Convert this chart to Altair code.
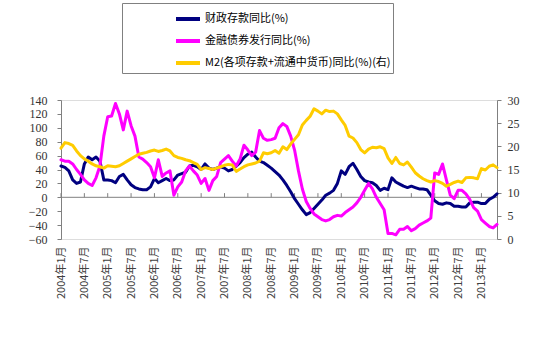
import altair as alt
import pandas as pd

S1 = "财政存款同比(%)"
S2 = "金融债券发行同比(%)"
S3 = "M2(各项存款+流通中货币)同比(%)(右)"

fiscal = [45, 43, 38, 25, 20, 22, 48, 58, 54, 58,
          52, 25, 25, 24, 21, 30, 33, 25, 18, 14,
          12, 11, 11, 15, 27, 21, 24, 27, 24, 25,
          32, 34, 36, 45, 46, 44, 40, 48, 42, 40,
          42, 44, 42, 38, 40, 45, 50, 57, 62, 65,
          58, 52, 50, 46, 42, 37, 32, 25, 17, 8,
          -2, -10, -18, -25, -22, -16, -10, -4, 3, 6,
          10, 20, 38, 33, 44, 49, 40, 30, 24, 22,
          21, 17, 10, 13, 11, 28, 22, 19, 16, 14,
          16, 14, 12, 12, 11, 3, -5, -9, -10, -8,
          -9, -13, -13, -14, -14, -8, -7, -7, -9, -9,
          -3, 0, 5]

bond = [54, 52, 52, 48, 40, 33, 25, 20, 17, 28,
        45, 88, 116, 117, 135, 120, 97, 124, 103, 88,
        58, 55, 50, 44, 28, 54, 30, 35, 38, 3,
        15, 22, 38, 45, 38, 32, 20, 27, 10, 24,
        30, 50, 55, 60, 52, 45, 55, 75, 68, 60,
        65, 96, 85, 82, 83, 85, 100, 106, 102, 88,
        68, 38, 12, -6, -16, -24, -28, -32, -34, -32,
        -28, -26, -27, -22, -18, -14, -8, 0, 10, 20,
        12, 0, -9, -18, -52, -52, -54, -46, -46, -42,
        -48, -45, -40, -37, -34, -30, 35, 33, 48, 25,
        3, -2, 10, 10, 5, -3, -15, -20, -32, -37,
        -42, -44, -39]

m2 = [19.6, 20.8, 20.6, 20.2, 19.0, 18.0, 17.3, 16.8, 16.2, 15.8,
      15.6, 15.3, 15.8, 15.7, 15.6, 15.8, 16.3, 16.8, 17.3, 17.8,
      18.3, 18.5, 18.7, 19.0, 19.2, 18.9, 19.1, 19.4, 19.0, 18.0,
      17.6, 17.4, 17.1, 16.9, 16.5, 16.1, 15.0, 15.4, 15.2, 15.0,
      15.3, 15.6, 15.9, 16.1, 16.0, 14.6, 15.1, 15.6, 16.0, 16.2,
      16.4, 16.8, 18.6, 18.4, 18.6, 19.1, 18.5, 19.9, 19.3, 20.5,
      21.5, 22.5, 24.6, 25.6, 26.5, 28.1, 27.6, 27.0, 27.8, 27.5,
      27.6, 27.0, 25.7, 24.5, 22.2, 21.8, 20.8, 19.3, 18.6, 19.4,
      19.8, 19.7, 19.9, 19.5, 17.5, 16.3, 17.6, 16.3, 16.0, 16.6,
      15.5, 14.3, 13.6, 13.0, 12.6, 12.3, 12.6, 12.4, 12.0, 11.4,
      11.8, 12.2, 12.5, 12.2, 13.2, 13.3, 13.2, 13.0, 15.2, 14.9,
      15.7, 16.0, 15.4]

month_idx = list(range(len(fiscal)))          # 0 = 2004年1月
tick_months = list(range(0, 109, 6))          # 2004年1月 ... 2013年1月
left_ticks = list(range(-60, 141, 20))
right_ticks = list(range(0, 31, 5))
baseline = [0]                                # category axis crosses the left scale at 0

series_names = [S1, S2, S3]
series_colors = ["#000080", "#FF00FF", "#FFCC00"]

df = pd.DataFrame({"idx": month_idx, S1: fiscal, S2: bond, S3: m2})
df_ticks = pd.DataFrame({"idx": tick_months, "lo": [0] * len(tick_months), "hi": [6] * len(tick_months)})
df_base = pd.DataFrame({"y": baseline})

xscale = alt.Scale(domain=[0, len(fiscal) - 1], nice=False, zero=False)
xaxis = alt.Axis(values=tick_months, domain=False, ticks=False, grid=False, orient="bottom",
                 labelExpr="(2004 + floor(datum.value / 12)) + '年' + (datum.value % 12 + 1) + '月'",
                 labelAngle=270, labelFont="Noto Sans CJK SC", labelFontSize=11,
                 labelColor="#404040", labelPadding=7, labelOverlap=False,
                 labelFlush=False, labelBound=False)
X = alt.X("idx:Q", scale=xscale, title=None, axis=xaxis)
yl_scale = alt.Scale(domain=[-60, 140], nice=False, zero=False)

color = alt.Color(
    "series:N",
    scale=alt.Scale(domain=series_names, range=series_colors),
    legend=alt.Legend(
        title=None, orient="none", legendX=61, legendY=-97, direction="vertical",
        strokeColor="#808080", fillColor="white", padding=2,
        symbolType="stroke", symbolStrokeWidth=4, symbolSize=576, symbolOffset=50,
        labelFont="Noto Sans CJK SC", labelFontSize=11, labelColor="#000000",
        labelOffset=3, rowPadding=0, labelLimit=400,
    ),
)

left_axis = alt.Axis(orient="left", values=left_ticks, grid=False, domainColor="#808080",
                     tickColor="#808080", tickSize=4, labelPadding=10, labelOverlap=False,
                     labelFont="Liberation Serif", labelFontSize=12, labelColor="#333333")
right_axis = alt.Axis(orient="right", values=right_ticks, grid=False, domainColor="#808080",
                      tickColor="#808080", tickSize=4, labelPadding=6, labelOverlap=False,
                      labelFont="Liberation Serif", labelFontSize=12, labelColor="#333333")

base = alt.Chart(df)

zero_line = alt.Chart(df_base).mark_rule(color="#808080", strokeWidth=1).encode(
    y=alt.Y("y:Q", scale=yl_scale, axis=None),
)

zero_ticks = alt.Chart(df_ticks).mark_rule(color="#808080", strokeWidth=1).encode(
    x=X,
    y=alt.Y("lo:Q", scale=yl_scale, axis=None),
    y2="hi:Q",
)

left_lines = base.transform_fold([S1, S2], as_=["series", "value"]).mark_line(
    strokeWidth=3, strokeJoin="round", strokeCap="round"
).encode(
    x=X,
    y=alt.Y("value:Q", scale=yl_scale, title=None, axis=left_axis),
    color=color,
)

right = base.transform_fold([S3], as_=["series", "value"]).mark_line(
    strokeWidth=3, strokeJoin="round", strokeCap="round"
).encode(
    x=X,
    y=alt.Y("value:Q", scale=alt.Scale(domain=[0, 30], nice=False, zero=False), title=None,
            axis=right_axis),
    color=color,
)

chart = alt.layer(zero_line, zero_ticks, left_lines, right).resolve_scale(
    y="independent"
).properties(
    width=436, height=139,
    autosize=alt.AutoSizeParams(type="none"),
    padding={"left": 61, "top": 100, "right": 53, "bottom": 111},
).configure_view(strokeWidth=0, stroke="transparent").configure(
    background="white"
).configure_axis(labelOverlap=False, grid=False).configure_axisX(
    domain=False, ticks=False
).configure_axisTop(disable=True)

chart.save("out.html", embed_options={"renderer": "svg", "actions": False})
